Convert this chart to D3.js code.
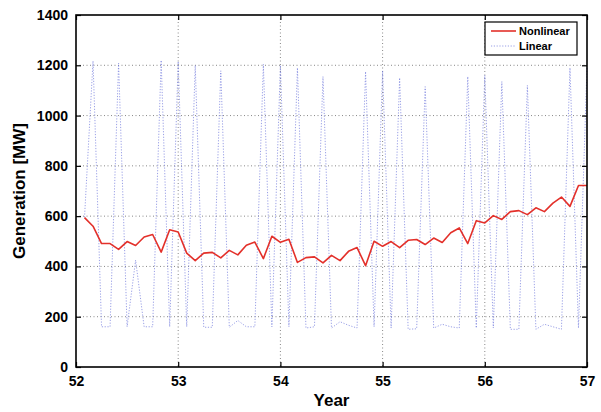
<!DOCTYPE html>
<html>
<head>
<meta charset="utf-8">
<script src="https://cdn.jsdelivr.net/npm/d3@7"></script>
<style>
  body { margin: 0; background: #fff; }
  svg { display: block; font-family: "Liberation Sans", Arial, sans-serif; }
</style>
</head>
<body>
<svg id="chart" width="601" height="412"></svg>
<script>
// monthly points, year 52 + month/12 (month 1..60)
var months = d3.range(1, 61);

var nonlinear = [594, 560, 491, 491, 468, 499, 483, 517, 527, 457,
                 546, 537, 453, 423, 453, 456, 434, 464, 446, 484,
                 497, 431, 520, 496, 508, 416, 435, 438, 414, 444,
                 423, 460, 475, 403, 500, 480, 499, 475, 504, 507,
                 487, 513, 495, 534, 553, 491, 582, 573, 602, 587,
                 618, 622, 606, 633, 618, 652, 676, 639, 722, 722];

var linear = [595, 1217, 160, 160, 1209, 160, 425, 160, 160, 1220,
              160, 1215, 160, 1200, 158, 158, 1178, 158, 185, 160,
              160, 1204, 160, 1200, 160, 1190, 155, 160, 1155, 155,
              180, 166, 155, 1175, 160, 1178, 155, 1150, 150, 152,
              1115, 155, 170, 160, 155, 1155, 155, 1160, 155, 1135,
              150, 150, 1120, 150, 170, 160, 150, 1190, 155, 1190];

var xTicks = [52, 53, 54, 55, 56, 57];
var yTicks = [0, 200, 400, 600, 800, 1000, 1200, 1400];

var svg = d3.select("#chart"),
    margin = {top: 15, right: 14, bottom: 45, left: 76},
    width = +svg.attr("width") - margin.left - margin.right,
    height = +svg.attr("height") - margin.top - margin.bottom,
    g = svg.append("g").attr("transform", "translate(" + margin.left + "," + margin.top + ")");

var x = d3.scaleLinear().domain([52, 57]).range([0, width]);
var y = d3.scaleLinear().domain([0, 1400]).range([height, 0]);

// grid
g.append("g").selectAll("line")
  .data(xTicks.slice(1, -1))
  .enter().append("line")
    .attr("x1", function(d) { return x(d); })
    .attr("x2", function(d) { return x(d); })
    .attr("y1", 0).attr("y2", height)
    .attr("stroke", "#888").attr("stroke-width", 1)
    .attr("stroke-dasharray", "1,2.5");

g.append("g").selectAll("line")
  .data(yTicks.slice(1, -1))
  .enter().append("line")
    .attr("y1", function(d) { return y(d); })
    .attr("y2", function(d) { return y(d); })
    .attr("x1", 0).attr("x2", width)
    .attr("stroke", "#888").attr("stroke-width", 1)
    .attr("stroke-dasharray", "1,2.5");

// series
var line = d3.line()
    .x(function(d) { return x(52 + d[0] / 12); })
    .y(function(d) { return y(d[1]); });

g.append("path")
    .datum(months.map(function(m, i) { return [m, linear[i]]; }))
    .attr("fill", "none")
    .attr("stroke", "#6f78dc")
    .attr("stroke-opacity", 0.7)
    .attr("stroke-width", 1)
    .attr("stroke-dasharray", "1.2,1.6")
    .attr("d", line);

g.append("path")
    .datum(months.map(function(m, i) { return [m, nonlinear[i]]; }))
    .attr("fill", "none")
    .attr("stroke", "#e3302a")
    .attr("stroke-width", 1.6)
    .attr("stroke-linejoin", "round")
    .attr("d", line);

// axes, MATLAB style ticks inside on all sides
var tickLen = 5;
g.append("g")
    .attr("transform", "translate(0," + height + ")")
    .call(d3.axisBottom(x).tickValues(xTicks).tickSize(-tickLen).tickPadding(9).tickFormat(d3.format("d")));
g.append("g")
    .call(d3.axisTop(x).tickValues(xTicks).tickSize(-tickLen).tickFormat(""));
g.append("g")
    .call(d3.axisLeft(y).tickValues(yTicks).tickSize(-tickLen).tickPadding(8).tickFormat(d3.format("d")));
g.append("g")
    .attr("transform", "translate(" + width + ",0)")
    .call(d3.axisRight(y).tickValues(yTicks).tickSize(-tickLen).tickFormat(""));

g.selectAll(".domain").remove();
g.selectAll(".tick line").attr("stroke", "#000").attr("stroke-width", 1.2);
g.selectAll(".tick text")
    .attr("font-size", 14).attr("font-weight", "bold").attr("fill", "#000")
    .attr("font-family", "'Liberation Sans', Arial, sans-serif");

g.append("rect")
    .attr("width", width).attr("height", height)
    .attr("fill", "none").attr("stroke", "#000").attr("stroke-width", 1.6);

// axis titles
svg.append("text")
    .attr("x", margin.left + width / 2).attr("y", 406)
    .attr("text-anchor", "middle")
    .attr("font-size", 17).attr("font-weight", "bold")
    .text("Year");

svg.append("text")
    .attr("transform", "translate(25," + (margin.top + height / 2) + ") rotate(-90)")
    .attr("text-anchor", "middle")
    .attr("font-size", 17).attr("font-weight", "bold")
    .text("Generation [MW]");

// legend
var legend = g.append("g").attr("transform", "translate(" + (width - 102) + ",7)");
legend.append("rect")
    .attr("width", 92).attr("height", 33)
    .attr("fill", "#fff").attr("stroke", "#000").attr("stroke-width", 1.2);

var keys = ["Nonlinear", "Linear"];
var item = legend.selectAll("g.item")
  .data(keys)
  .enter().append("g")
    .attr("class", "item")
    .attr("transform", function(d, i) { return "translate(0," + (9 + i * 15) + ")"; });

item.append("line")
    .attr("x1", 6).attr("x2", 31)
    .attr("stroke", function(d, i) { return i ? "#6f78dc" : "#e3302a"; })
    .attr("stroke-opacity", function(d, i) { return i ? 0.7 : 1; })
    .attr("stroke-width", function(d, i) { return i ? 1 : 1.6; })
    .attr("stroke-dasharray", function(d, i) { return i ? "1.2,1.6" : null; });

item.append("text")
    .attr("x", 34).attr("dy", "0.35em")
    .attr("font-size", 11).attr("font-weight", "bold")
    .text(function(d) { return d; });
</script>
</body>
</html>
